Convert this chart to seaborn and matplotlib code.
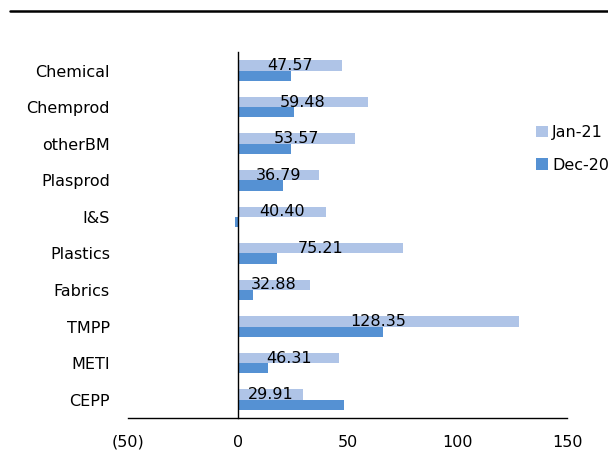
import matplotlib
matplotlib.use("Agg")
import matplotlib.pyplot as plt
from matplotlib.lines import Line2D
from matplotlib.ticker import FixedLocator
import pandas as pd
import seaborn as sns

categories = ["Chemical", "Chemprod", "otherBM", "Plasprod", "I&S",
              "Plastics", "Fabrics", "TMPP", "METI", "CEPP"]
jan21 = [47.57, 59.48, 53.57, 36.79, 40.40, 75.21, 32.88, 128.35, 46.31, 29.91]
dec20 = [24.3, 25.4, 24.3, 20.8, -1.2, 18.1, 7.1, 66.4, 14.0, 48.5]
series_names = ["Jan-21", "Dec-20"]
series_colors = ["#AFC4E7", "#5591D3"]
x_ticks = [-50, 0, 50, 100, 150]
x_tick_labels = ["(50)", "0", "50", "100", "150"]

df = pd.DataFrame({
    "category": categories * 2,
    "value": jan21 + dec20,
    "series": [series_names[0]] * len(categories) + [series_names[1]] * len(categories),
})

sns.set_style("white")
plt.rcParams["font.family"] = ["DejaVu Sans"]
plt.rcParams["font.size"] = 11
plt.rcParams["text.color"] = "black"

fig = plt.figure(figsize=(6.08, 4.54), dpi=100)
ax = fig.add_axes([128 / 608, 1 - 418 / 454, (567 - 128) / 608, (418 - 52.3) / 454])

sns.barplot(data=df, x="value", y="category", hue="series", hue_order=series_names,
            order=categories, palette=series_colors, saturation=1, width=0.56,
            errorbar=None, orient="h", linewidth=0, ax=ax)

# value labels for the Jan-21 series, centred in each bar
ax.bar_label(ax.containers[0], labels=[f"{v:.2f}" for v in jan21],
             label_type="center", fontsize=11.5, color="black")

ax.set_xlim(-50, 150)
ax.set_ylim(len(categories) - 0.5, -0.5)
ax.set_xlabel("")
ax.set_ylabel("")

ax.set_xticks(x_ticks)
ax.set_xticklabels(x_tick_labels)

for s in ["top", "right"]:
    ax.spines[s].set_visible(False)
ax.spines["left"].set_position(("data", 0))
for s in ["left", "bottom"]:
    ax.spines[s].set_color("black")
    ax.spines[s].set_linewidth(1.0)

ax.tick_params(axis="x", direction="in", length=3.8, width=1, color="#555555",
               pad=12, labelsize=11.5, labelcolor="black")
ax.tick_params(axis="y", which="major", length=0, pad=92, labelsize=11.5, labelcolor="black")
ax.yaxis.set_minor_locator(FixedLocator([i - 0.5 for i in range(len(categories) + 1)]))
ax.tick_params(axis="y", which="minor", direction="in", length=4.3, width=1, color="#333333")

leg = ax.legend(loc="upper left", bbox_to_anchor=(536 / 608, 1 - 125 / 454),
                bbox_transform=fig.transFigure, frameon=False, fontsize=11.5,
                handlelength=0.72, handleheight=0.72, handletextpad=0.3,
                labelspacing=1.1, borderpad=0, borderaxespad=0)
for t in leg.get_texts():
    t.set_color("black")
for h in leg.legend_handles:
    h.set_linewidth(0)

fig.add_artist(Line2D([10 / 608, 1], [1 - 11 / 454, 1 - 11 / 454],
                      transform=fig.transFigure, color="black", lw=1.8))

fig.savefig("out.png", dpi=100)
